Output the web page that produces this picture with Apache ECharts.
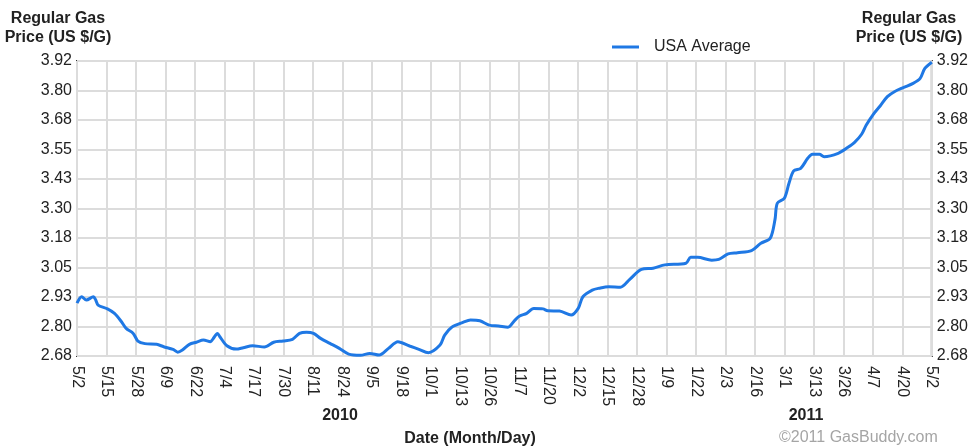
<!DOCTYPE html>
<html>
<head>
<meta charset="utf-8">
<title>Regular Gas Price</title>
<script src="https://cdn.jsdelivr.net/npm/echarts@6/dist/echarts.min.js"></script>
<style>
  html, body { margin: 0; padding: 0; background: #fff; }
  #chart { width: 971px; height: 447px; }
</style>
</head>
<body>
<div id="chart"></div>
<script>
// day number counted from 5/2/2010 (0) to 5/2/2011 (365)
var days = [0, 2, 4, 7, 8, 9, 13, 16, 19, 21, 24, 26, 29, 34, 37, 41, 43, 45, 48, 51,
  54, 57, 58, 60, 61, 64, 68, 71, 75, 80, 84, 88, 92, 95, 98, 101, 104, 108, 112, 116,
  121, 125, 129, 133, 137, 142, 146, 150, 155, 157, 160, 165, 168, 172, 176, 180, 184, 187, 189, 192,
  195, 199, 201, 206, 211, 214, 216, 220, 223, 227, 232, 236, 241, 246, 251, 260, 262, 265, 271, 274,
  278, 282, 288, 292, 296, 298, 299, 302, 304, 306, 309, 312, 314, 317, 319, 325, 329, 332, 335, 337,
  340, 343, 346, 349, 353, 357, 360, 362, 365];
var prices = [2.902, 2.929, 2.915, 2.929, 2.915, 2.894, 2.878, 2.859, 2.824, 2.796, 2.775, 2.743, 2.732, 2.729, 2.719, 2.708, 2.696, 2.705, 2.729, 2.738,
  2.747, 2.740, 2.751, 2.775, 2.761, 2.723, 2.709, 2.715, 2.723, 2.718, 2.738, 2.743, 2.750, 2.775, 2.780, 2.775, 2.754, 2.733, 2.712, 2.688,
  2.683, 2.691, 2.684, 2.712, 2.740, 2.722, 2.708, 2.694, 2.726, 2.768, 2.801, 2.822, 2.831, 2.828, 2.810, 2.806, 2.801, 2.831, 2.848, 2.859,
  2.880, 2.878, 2.870, 2.869, 2.852, 2.880, 2.929, 2.957, 2.965, 2.971, 2.969, 3.002, 3.044, 3.049, 3.063, 3.070, 3.095, 3.095, 3.083, 3.086,
  3.109, 3.114, 3.123, 3.154, 3.175, 3.252, 3.322, 3.343, 3.406, 3.458, 3.469, 3.511, 3.528, 3.528, 3.518, 3.532, 3.556, 3.578, 3.612, 3.651,
  3.696, 3.732, 3.770, 3.791, 3.809, 3.826, 3.847, 3.889, 3.915];

var xTickLabels = ['5/2', '5/15', '5/28', '6/9', '6/22', '7/4', '7/17', '7/30', '8/11', '8/24',
  '9/5', '9/18', '10/1', '10/13', '10/26', '11/7', '11/20', '12/2', '12/15', '12/28',
  '1/9', '1/22', '2/3', '2/16', '3/1', '3/13', '3/26', '4/7', '4/20', '5/2'];
var yTickLabels = ['2.68', '2.80', '2.93', '3.05', '3.18', '3.30', '3.43', '3.55', '3.68', '3.80', '3.92'];

var seriesName = 'USA Average';
var axisTitle = 'Regular Gas\nPrice (US $/G)';

var xMax = 365;
var xStep = xMax / (xTickLabels.length - 1);
var xTickPos = xTickLabels.map(function (l, i) { return i * xStep; });

var yMin = 2.68, yMax = 3.92;
var yStep = (yMax - yMin) / (yTickLabels.length - 1);
var yTickPos = yTickLabels.map(function (l, i) { return yMin + i * yStep; });

var points = days.map(function (d, i) { return [d, prices[i]]; });

var font = 'Liberation Sans, Arial, sans-serif';

function yAxisCfg(pos) {
  return {
    type: 'value',
    position: pos,
    min: yMin,
    max: yMax,
    axisLine: { show: false },
    axisTick: { show: false, customValues: yTickPos },
    axisLabel: {
      customValues: yTickPos,
      margin: 5,
      color: '#222',
      fontFamily: font,
      fontSize: 16,
      formatter: function (v) { return yTickLabels[Math.round((v - yMin) / yStep)]; }
    },
    splitLine: { show: pos === 'left', lineStyle: { color: '#dcdcdc', width: 2 } }
  };
}

function bold(txt, x, y) {
  return {
    type: 'text', x: x, y: y,
    style: { text: txt, font: 'bold 16px ' + font, fill: '#222', align: 'center', verticalAlign: 'top', lineHeight: 19 }
  };
}

var chart = echarts.init(document.getElementById('chart'));
chart.setOption({
  animation: false,
  backgroundColor: '#fff',
  grid: {
    left: 77, right: 37, top: 61, bottom: 91,
    show: true, borderColor: '#333', borderWidth: 2
  },
  legend: {
    left: 607, top: 34,
    icon: 'rect', itemWidth: 27, itemHeight: 3,
    textStyle: { fontFamily: font, fontSize: 16, color: '#222', padding: [0, 0, 0, 10] },
    data: [seriesName]
  },
  xAxis: {
    type: 'value',
    min: 0,
    max: xMax,
    axisLine: { show: false },
    axisTick: { show: false, customValues: xTickPos },
    axisLabel: {
      customValues: xTickPos,
      rotate: -90,
      margin: 10,
      color: '#222',
      fontFamily: font,
      fontSize: 16,
      formatter: function (v) { return xTickLabels[Math.round(v / xStep)]; }
    },
    splitLine: { show: true, lineStyle: { color: '#dcdcdc', width: 2 } }
  },
  yAxis: [yAxisCfg('left'), yAxisCfg('right')],
  graphic: [
    bold(axisTitle, 58, 9),
    bold(axisTitle, 909, 9),
    bold('2010', 340, 406),
    bold('2011', 806, 406),
    bold('Date (Month/Day)', 470, 429),
    { type: 'text', left: 779, top: 430, style: { text: '\u00a92011 GasBuddy.com', font: '16px ' + font, fill: '#a5a5a5' } }
  ],
  series: [{
    name: seriesName,
    type: 'line',
    data: points,
    showSymbol: false,
    smooth: 0.3,
    lineStyle: { color: '#1f78e4', width: 3 },
    itemStyle: { color: '#1f78e4' }
  }]
});
</script>
</body>
</html>
